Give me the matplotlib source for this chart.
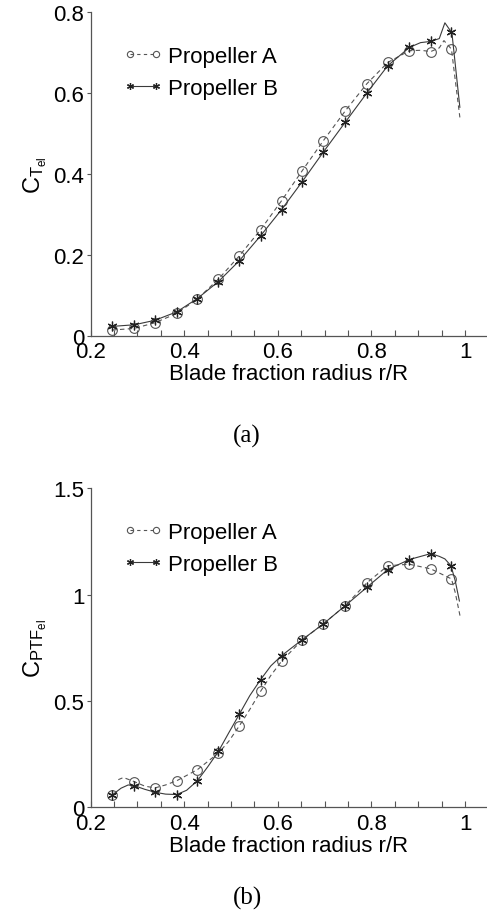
import matplotlib
matplotlib.use("Agg")
import matplotlib.pyplot as plt
from matplotlib.lines import Line2D

plt.rcParams['font.family'] = ['Liberation Sans', 'DejaVu Sans']
plt.rcParams['mathtext.fontset'] = 'custom'
plt.rcParams['mathtext.rm'] = 'Liberation Sans'
plt.rcParams['mathtext.it'] = 'Liberation Sans'

# ---------------- data ----------------
r_pts = [0.246, 0.293, 0.337, 0.384, 0.428, 0.473, 0.518, 0.563, 0.608,
         0.652, 0.697, 0.744, 0.790, 0.835, 0.881, 0.927, 0.971]

# (a) thrust coefficient, markers
ct_A = [0.014, 0.018, 0.032, 0.055, 0.091, 0.140, 0.198, 0.262, 0.334,
        0.408, 0.482, 0.556, 0.623, 0.676, 0.705, 0.703, 0.709]
ct_B = [0.023, 0.027, 0.038, 0.059, 0.092, 0.134, 0.186, 0.247, 0.312,
        0.381, 0.454, 0.528, 0.600, 0.668, 0.713, 0.728, 0.751]
# (a) curves (hand-read)
ct_A_line_r = [0.246, 0.293, 0.337, 0.384, 0.428, 0.473, 0.518, 0.563, 0.608,
               0.652, 0.697, 0.744, 0.790, 0.835, 0.881, 0.905, 0.927, 0.945,
               0.955, 0.971, 0.989]
ct_A_line = [0.014, 0.018, 0.032, 0.055, 0.091, 0.140, 0.198, 0.262, 0.334,
             0.408, 0.482, 0.556, 0.623, 0.676, 0.705, 0.706, 0.703, 0.712,
             0.730, 0.709, 0.540]
ct_B_line_r = [0.246, 0.293, 0.337, 0.384, 0.428, 0.473, 0.518, 0.563, 0.608,
               0.652, 0.697, 0.744, 0.790, 0.835, 0.881, 0.905, 0.927, 0.945,
               0.957, 0.972, 0.989]
ct_B_line = [0.023, 0.027, 0.038, 0.059, 0.092, 0.134, 0.186, 0.247, 0.312,
             0.381, 0.454, 0.528, 0.600, 0.668, 0.713, 0.725, 0.728, 0.735,
             0.774, 0.749, 0.565]

# (b) power coefficient, markers
cp_A = [0.058, 0.121, 0.091, 0.125, 0.177, 0.255, 0.384, 0.545, 0.687,
        0.787, 0.862, 0.948, 1.055, 1.136, 1.143, 1.121, 1.074]
cp_B = [0.058, 0.102, 0.071, 0.060, 0.125, 0.263, 0.439, 0.600, 0.713,
        0.788, 0.862, 0.948, 1.034, 1.118, 1.165, 1.193, 1.136]
# (b) curves (hand-read)
cp_A_line_r = [0.259, 0.270, 0.293, 0.315, 0.337, 0.360, 0.384, 0.428, 0.473,
               0.495, 0.518, 0.540, 0.563, 0.585, 0.608, 0.652, 0.697, 0.744,
               0.790, 0.835, 0.881, 0.927, 0.971, 0.979, 0.990]
cp_A_line = [0.130, 0.140, 0.121, 0.100, 0.091, 0.105, 0.125, 0.177, 0.255,
             0.310, 0.384, 0.460, 0.545, 0.620, 0.687, 0.787, 0.862, 0.948,
             1.055, 1.136, 1.143, 1.121, 1.074, 1.011, 0.893]
cp_B_line_r = [0.246, 0.265, 0.280, 0.293, 0.315, 0.337, 0.360, 0.384, 0.405,
               0.428, 0.450, 0.473, 0.495, 0.518, 0.540, 0.563, 0.585, 0.608,
               0.652, 0.697, 0.744, 0.790, 0.835, 0.881, 0.927, 0.945, 0.957,
               0.970, 0.979, 0.988]
cp_B_line = [0.058, 0.090, 0.105, 0.102, 0.085, 0.071, 0.062, 0.060, 0.080,
             0.125, 0.190, 0.263, 0.350, 0.439, 0.525, 0.600, 0.665, 0.713,
             0.788, 0.862, 0.948, 1.034, 1.118, 1.165, 1.193, 1.180, 1.168,
             1.136, 1.066, 0.970]

x_ticks = [0.2, 0.4, 0.6, 0.8, 1.0]
x_ticklabels = ['0.2', '0.4', '0.6', '0.8', '1']
x_minor = [0.25, 0.3, 0.35, 0.45, 0.5, 0.55, 0.65, 0.7, 0.75, 0.85, 0.9, 0.95, 1.0]
ya_ticks = [0, 0.2, 0.4, 0.6, 0.8]
ya_ticklabels = ['0', '0.2', '0.4', '0.6', '0.8']
yb_ticks = [0, 0.5, 1.0, 1.5]
yb_ticklabels = ['0', '0.5', '1', '1.5']
labels = ['Propeller A', 'Propeller B']

# ---------------- figure ----------------
W, H = 487, 920
fig = plt.figure(figsize=(W / 100, H / 100), dpi=100)

def px_axes(left, right, top, bottom):
    return fig.add_axes([left / W, 1 - bottom / H, (right - left) / W, (bottom - top) / H])

ax1 = px_axes(90.7, 487, 13.3, 336.7)
ax2 = px_axes(90.7, 487, 489.3, 808.3)

col = '#3a3a3a'
asterisk = (6, 2, 0)
FS = 16

def style(ax, yticks, yticklabels, ylim, ylabel):
    ax.set_xlim(0.2, 1.047)
    ax.set_ylim(*ylim)
    for s in ['top', 'right']:
        ax.spines[s].set_visible(False)
    for s in ['left', 'bottom']:
        ax.spines[s].set_color('#555555')
        ax.spines[s].set_linewidth(0.9)
    ax.set_xticks(x_ticks)
    ax.set_xticklabels(x_ticklabels)
    ax.set_xticks(x_minor, minor=True)
    ax.set_yticks(yticks)
    ax.set_yticklabels(yticklabels)
    ax.tick_params(axis='x', which='both', direction='in', length=4, width=0.8,
                   color='#555555', labelsize=FS, pad=4)
    ax.tick_params(axis='y', direction='out', length=3, width=0.8,
                   color='#555555', labelsize=FS, pad=1.5)
    ax.set_xlabel('Blade fraction radius r/R', fontsize=FS, labelpad=0.5)
    ax.set_ylabel(ylabel, fontsize=17)
    ax.yaxis.set_label_coords(-0.105, 0.5)

def draw(ax, ra, la, rb, lb, ya, yb):
    ax.plot(ra, la, ls=(0, (4, 3)), color='#555555', lw=0.8)
    ax.plot(r_pts, ya, ls='none', marker='o', ms=7, mfc='none', mec='#555555', mew=0.8)
    ax.plot(rb, lb, ls='-', color=col, lw=0.8)
    ax.plot(r_pts, yb, ls='none', marker=asterisk, ms=7, mec='#222222', mew=0.9)
    hA = Line2D([], [], ls=(0, (3, 3)), color='#555555', lw=0.8, marker='o', ms=4.5,
                mfc='none', mec='#555555', mew=0.8)
    hB = Line2D([], [], ls='-', color=col, lw=0.8, marker=asterisk, ms=5,
                mec='#222222', mew=0.9)
    ax.legend([hA, hB], labels, loc='upper left', bbox_to_anchor=(0.06, 0.923),
              frameon=False, numpoints=2, handlelength=1.75, handletextpad=0.25,
              fontsize=FS, labelspacing=0.5, borderaxespad=0)

draw(ax1, ct_A_line_r, ct_A_line, ct_B_line_r, ct_B_line, ct_A, ct_B)
style(ax1, ya_ticks, ya_ticklabels, (0, 0.8), r'$\mathrm{C_{T_{el}}}$')
draw(ax2, cp_A_line_r, cp_A_line, cp_B_line_r, cp_B_line, cp_A, cp_B)
style(ax2, yb_ticks, yb_ticklabels, (0, 1.5), r'$\mathrm{C_{PTF_{el}}}$')

fig.text(247 / W, 1 - 436 / H, '(a)', ha='center', va='center',
         family='Liberation Serif', fontsize=18)
fig.text(247 / W, 1 - 898 / H, '(b)', ha='center', va='center',
         family='Liberation Serif', fontsize=18)

fig.savefig('out.png', dpi=100, facecolor='white')
